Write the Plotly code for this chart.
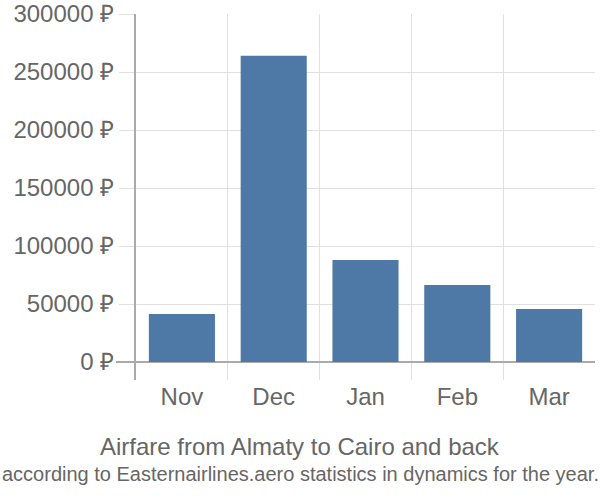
import plotly.graph_objects as go

months = ["Nov", "Dec", "Jan", "Feb", "Mar"]
prices = [41400, 264000, 88000, 66400, 45700]
tick_vals = [0, 50000, 100000, 150000, 200000, 250000, 300000]
tick_text = [f"{v} ₽" for v in tick_vals]
title_line1 = "Airfare from Almaty to Cairo and back"
title_line2 = "according to Easternairlines.aero statistics in dynamics for the year."

L, R = 136, 5
fig = go.Figure(go.Bar(x=months, y=prices, marker_color="#4e79a7", marker_line_width=0))

fig.update_layout(
    width=600, height=500,
    margin=dict(l=L, r=R, t=14, b=120, autoexpand=False),
    paper_bgcolor="white", plot_bgcolor="white",
    bargap=0.28,
    showlegend=False,
    font=dict(family="Liberation Sans, Arial, sans-serif", color="#666666"),
)
fig.update_yaxes(
    range=[-15517, 300000], automargin=False,
    tickvals=tick_vals, ticktext=tick_text,
    tickfont=dict(size=24, color="#666666"),
    showgrid=True, gridcolor="#e0e0e0", gridwidth=1,
    ticks="outside", ticklen=15, tickcolor="#e0e0e0",
    zeroline=True, zerolinecolor="#aaaaaa", zerolinewidth=2,
    showline=True, linecolor="#aaaaaa", linewidth=2,
)
fig.update_xaxes(
    automargin=False,
    tickfont=dict(size=24, color="#666666"),
    tickson="boundaries", showgrid=True, gridcolor="#e0e0e0", gridwidth=1,
    ticks="", showline=False,
)
pw = 600 - L - R
fig.add_shape(type="line", xref="paper", yref="y", x0=-20 / pw, x1=0, y0=0, y1=0,
              line=dict(color="#aaaaaa", width=2))
cx = (300 - L) / pw
fig.add_annotation(text=title_line1, xref="paper", yref="paper", x=cx, y=0,
                   xanchor="center", yanchor="middle", showarrow=False,
                   font=dict(size=24, color="#666666"), yshift=-66)
fig.add_annotation(text=title_line2, xref="paper", yref="paper", x=cx, y=0,
                   xanchor="center", yanchor="middle", showarrow=False,
                   font=dict(size=20, color="#666666"), yshift=-94)

fig.write_html("out.html")
